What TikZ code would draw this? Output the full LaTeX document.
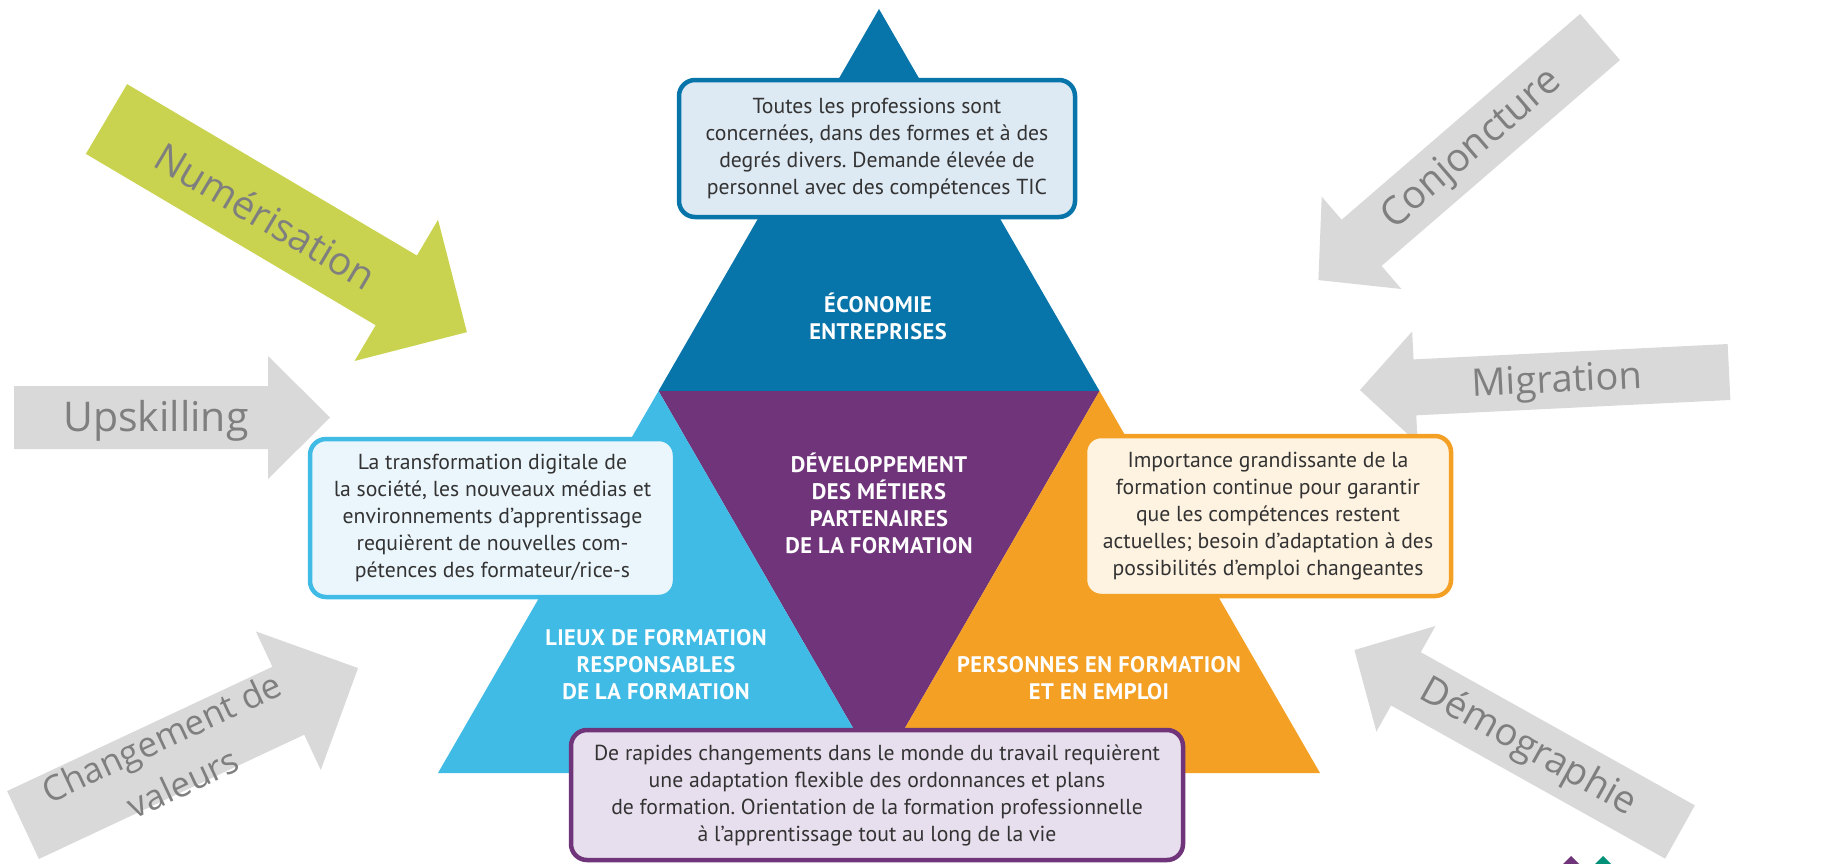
\documentclass[tikz,border=0pt]{standalone}
\usepackage{fontspec}
\setmainfont{PT Sans}
\newfontfamily\arrowfont{Open Sans}
\newfontfamily\labelfont[LetterSpace=2]{PT Sans}
\frenchspacing
\definecolor{ecoblue}{RGB}{7,116,170}
\definecolor{devpurple}{RGB}{112,52,122}
\definecolor{lieublue}{RGB}{64,187,230}
\definecolor{persorange}{RGB}{243,160,36}
\definecolor{arrowgray}{RGB}{217,217,217}
\definecolor{arrowtext}{RGB}{127,127,127}
\definecolor{numgreen}{RGB}{201,211,79}
\definecolor{boxtext}{RGB}{51,51,51}
\definecolor{ecofill}{RGB}{221,233,243}
\definecolor{lieufill}{RGB}{235,246,252}
\definecolor{persfill}{RGB}{254,242,225}
\definecolor{devfill}{RGB}{232,223,238}
\definecolor{logoteal}{RGB}{0,145,120}
\tikzset{
  pics/blockarrow/.style args={#1/#2/#3/#4/#5}{code={
    \fill[#5] (0,-#2/2) -- (#1-#4,-#2/2) -- (#1-#4,-#3/2) -- (#1,0)
      -- (#1-#4,#3/2) -- (#1-#4,#2/2) -- (0,#2/2) -- cycle;
  }},
  arrowlabel/.style={text=arrowtext, font=\arrowfont\fontsize{39}{44}\selectfont, align=center, inner sep=0pt},
  infobox/.style={rounded corners=16pt, line width=4.5pt, align=center, text=boxtext,
    font=\fontsize{21.7}{27}\selectfont, inner sep=0pt},
  trilabel/.style={text=white, font=\labelfont\bfseries\fontsize{22.5}{27}\selectfont, align=center, inner sep=0pt}
}
\begin{document}
\begin{tikzpicture}[x=1pt,y=-1pt]
\useasboundingbox (0,0) rectangle (1843,863);
\fill[white] (0,0) rectangle (1843,863);

% external block arrows
\pic[rotate=-30.6] at (106.5,119) {blockarrow={418.7/81/164/82/numgreen}};
\pic at (14,417.5) {blockarrow={316/63/123/62/arrowgray}};
\pic[rotate=25.1] at (23,825) {blockarrow={370/75/153/77/arrowgray}};
\pic[rotate=220.8] at (1600,37) {blockarrow={372/61/122/57/arrowgray}};
\pic[rotate=182.8] at (1729,372) {blockarrow={369.5/56/112/55/arrowgray}};
\pic[rotate=150.8] at (1680,832) {blockarrow={373/61/121/59/arrowgray}};

\node[arrowlabel, rotate=-30.6] (numtxt) at (266,216) {Numérisation};
\node[arrowlabel, font=\arrowfont\fontsize{41}{44}\selectfont] (uptxt) at (156,421) {Upskilling};
\node[arrowlabel, font=\arrowfont\fontsize{35}{50}\selectfont, rotate=25.1] (valtxt) at (172,760) {Changement de\\valeurs};
\node[arrowlabel, rotate=40.8] (conjtxt) at (1472,150) {Conjoncture};
\node[arrowlabel, font=\arrowfont\fontsize{38}{44}\selectfont, rotate=2.8] (migtxt) at (1557,383) {Migration};
\node[arrowlabel, font=\arrowfont\fontsize{38}{44}\selectfont, rotate=-29.2] (demtxt) at (1528,748) {Démographie};

% triangle
\coordinate (apex) at (879,9);
\coordinate (bl) at (438,773);
\coordinate (br) at (1320,773);
\coordinate (ml) at (658.5,391);
\coordinate (mr) at (1099.5,391);
\coordinate (mb) at (879,773);
\fill[ecoblue] (apex) -- (ml) -- (mr) -- cycle;
\fill[devpurple] (ml) -- (mr) -- (mb) -- cycle;
\fill[lieublue] (ml) -- (mb) -- (bl) -- cycle;
\fill[persorange] (mr) -- (br) -- (mb) -- cycle;

\node[trilabel] (ecolbl) at (878,316) {ÉCONOMIE\\ENTREPRISES};
\node[trilabel] (devlbl) at (879,503) {DÉVELOPPEMENT\\DES MÉTIERS\\PARTENAIRES\\DE LA FORMATION};
\node[trilabel] (lieulbl) at (656,665) {LIEUX DE FORMATION\\RESPONSABLES\\DE LA FORMATION};
\node[trilabel] (perslbl) at (1099,678) {PERSONNES EN FORMATION\\ET EN EMPLOI};

% boxes
\node[infobox, draw=ecoblue, fill=ecofill, minimum width=396, minimum height=137] (ecobox) at (877,148.5)
  {Toutes les professions sont\\concernées, dans des formes et à des\\degrés divers. Demande élevée de\\personnel avec des compétences TIC};
\node[infobox, draw=lieublue, fill=lieufill, minimum width=365, minimum height=158] (lieubox) at (492.5,518)
  {La transformation digitale de\\la société, les nouveaux médias et\\environnements d’apprentissage\\requièrent de nouvelles com-\\pétences des formateur/rice-s};
\node[infobox, draw=persorange, fill=persfill, minimum width=366, minimum height=160] (persbox) at (1268,516)
  {Importance grandissante de la\\formation continue pour garantir\\que les compétences restent\\actuelles; besoin d’adaptation à des\\possibilités d’emploi changeantes};
\node[infobox, draw=devpurple, fill=devfill, minimum width=612, minimum height=130] (devbox) at (877,795)
  {De rapides changements dans le monde du travail requièrent\\une adaptation flexible des ordonnances et plans\\de formation. Orientation de la formation professionnelle\\à l’apprentissage tout au long de la vie};

% logo fragment
\fill[devpurple] (1571,856) -- (1581,866) -- (1571,876) -- (1561,866) -- cycle;
\fill[logoteal] (1603,856) -- (1613,866) -- (1603,876) -- (1593,866) -- cycle;
\end{tikzpicture}
\end{document}
